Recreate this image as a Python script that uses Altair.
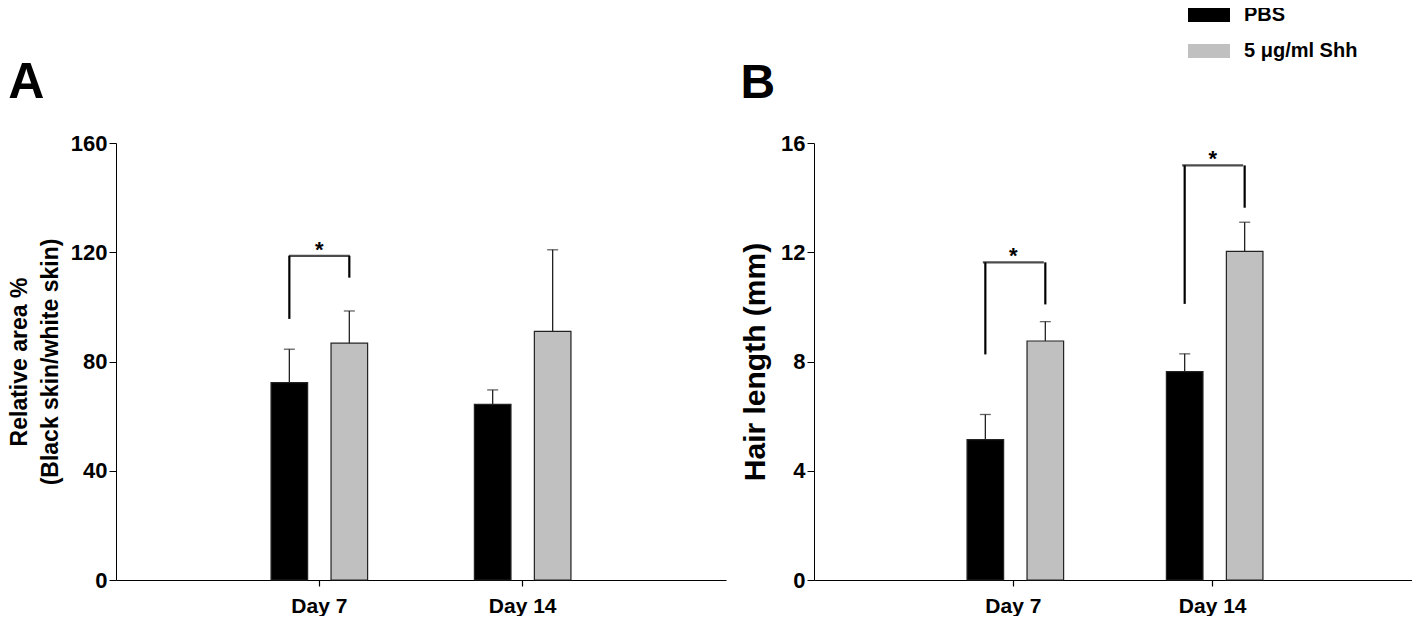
import altair as alt
import pandas as pd

FONT = "Liberation Sans"

days = ["Day 7", "Day 14"]
groups = ["PBS", "5 μg/ml Shh"]

# Panel A: relative area % (mean and SD)
area_pbs_mean = [72.3, 64.3]
area_pbs_sd = [12.2, 5.3]
area_shh_mean = [86.7, 91.0]
area_shh_sd = [11.8, 29.9]

# Panel B: hair length (mm)
hair_pbs_mean = [5.14, 7.63]
hair_pbs_sd = [0.92, 0.65]
hair_shh_mean = [8.75, 12.03]
hair_shh_sd = [0.71, 1.07]

# significance brackets: day, left-leg bottom, right-leg bottom, top
area_sig_days = ["Day 7"]
area_sig_left = [95.6]
area_sig_right = [110.7]
area_sig_top = [118.7]

hair_sig_days = ["Day 7", "Day 14"]
hair_sig_left = [8.26, 10.11]
hair_sig_right = [10.09, 13.63]
hair_sig_top = [11.63, 15.18]

area_ticks = [0, 40, 80, 120, 160]
hair_ticks = [0, 4, 8, 12, 16]


def bar_table(pbs_mean, pbs_sd, shh_mean, shh_sd):
    rows = []
    for i, d in enumerate(days):
        rows.append({"day": d, "group": groups[0], "mean": pbs_mean[i], "top": pbs_mean[i] + pbs_sd[i]})
        rows.append({"day": d, "group": groups[1], "mean": shh_mean[i], "top": shh_mean[i] + shh_sd[i]})
    return pd.DataFrame(rows)


def sig_tables(sdays, left, right, top):
    legs = []
    tops = []
    for i, d in enumerate(sdays):
        legs.append({"day": d, "group": groups[0], "low": left[i], "high": top[i]})
        legs.append({"day": d, "group": groups[1], "low": right[i], "high": top[i]})
        tops.append({"day": d, "high": top[i], "mark": "*"})
    return pd.DataFrame(legs), pd.DataFrame(tops)


legend_all = alt.Legend(title=None, orient="none", legendX=1072, legendY=-135,
                        symbolType="M-1,-0.333H1V0.333H-1Z", symbolSize=1764,
                        symbolStrokeWidth=0, labelFontSize=20, labelFont=FONT,
                        labelFontWeight="bold", labelColor="black", labelOffset=14,
                        rowPadding=16, clipHeight=14)


def panel(bars, legs, tops, ymax, yticks, ytitle, title_font_size,
          title_pad, width, letter, letter_size, off_outer):
    xs = alt.X("day:N", sort=days,
               scale=alt.Scale(paddingInner=0, paddingOuter=0.5),
               axis=alt.Axis(title=None, labelAngle=0, labelFontSize=21, labelFont=FONT,
                             labelFontWeight="bold", labelColor="black", tickSize=6,
                             labelPadding=9, domainColor="black", tickColor="black",
                             domainWidth=1.2, tickWidth=1.2))
    xo = alt.XOffset("group:N", sort=groups,
                     scale=alt.Scale(paddingInner=0.39, paddingOuter=off_outer))
    yscale = alt.Scale(domain=[0, ymax], nice=False)
    yaxis = alt.Axis(values=yticks, title=ytitle, grid=False, labelFontSize=22,
                     labelFont=FONT, labelFontWeight="bold", labelColor="black",
                     tickSize=7, labelPadding=2, domainColor="black",
                     tickColor="black", titleFont=FONT, titleFontSize=title_font_size,
                     titleFontWeight="bold", titleColor="black",
                     titlePadding=title_pad, titleLineHeight=31)

    def Y(field):
        return alt.Y(field, scale=yscale, axis=yaxis, title=ytitle)

    base = alt.Chart(bars)
    bar = base.mark_bar(stroke="#222222", strokeWidth=1.2).encode(
        x=xs, xOffset=xo, y=Y("mean:Q"),
        color=alt.Color("group:N", sort=groups,
                        scale=alt.Scale(domain=groups, range=["#000000", "#c0c0c0"]),
                        legend=legend_all),
    )
    err = base.mark_rule(color="#222222", strokeWidth=1.3).encode(
        x=xs, xOffset=xo, y=Y("mean:Q"), y2="top:Q")
    cap = base.mark_tick(color="#222222", thickness=1.3, size=11, orient="horizontal").encode(
        x=xs, xOffset=xo, y=Y("top:Q"))
    leg = alt.Chart(legs).mark_rule(color="black", strokeWidth=2.2).encode(
        x=xs, xOffset=xo, y=Y("low:Q"), y2="high:Q")
    topline = alt.Chart(tops).mark_tick(color="black", thickness=2.2, size=61,
                                        orient="horizontal").encode(
        x=xs, y=Y("high:Q"))
    star = alt.Chart(tops).mark_text(font=FONT, fontSize=22, fontWeight="bold",
                                     baseline="alphabetic", dy=1, color="black").encode(
        x=xs, y=Y("high:Q"), text="mark:N")
    return alt.layer(bar, err, cap, leg, topline, star).properties(
        width=width, height=437,
        title=alt.Title(letter, anchor="start", frame="bounds", fontSize=letter_size,
                        font=FONT, fontWeight="bold", color="black", offset=24),
    )


bars_a = bar_table(area_pbs_mean, area_pbs_sd, area_shh_mean, area_shh_sd)
legs_a, tops_a = sig_tables(area_sig_days, area_sig_left, area_sig_right, area_sig_top)
bars_b = bar_table(hair_pbs_mean, hair_pbs_sd, hair_shh_mean, hair_shh_sd)
legs_b, tops_b = sig_tables(hair_sig_days, hair_sig_left, hair_sig_right, hair_sig_top)

panel_a = panel(bars_a, legs_a, tops_a, 160, area_ticks,
                ["Relative area %", "(Black skin/white skin)"], 23, 8, 610, "A", 50, 0.89)
panel_b = panel(bars_b, legs_b, tops_b, 16, hair_ticks, "Hair length (mm)", 30, 10,
                598, "B", 48, 0.83)

chart = alt.hconcat(panel_a, panel_b, spacing=14).properties(
    padding={"left": 0, "top": 0, "right": 0, "bottom": 0}
).configure_view(stroke=None)

chart.save("out.html", embed_options={"renderer": "svg", "actions": False})
